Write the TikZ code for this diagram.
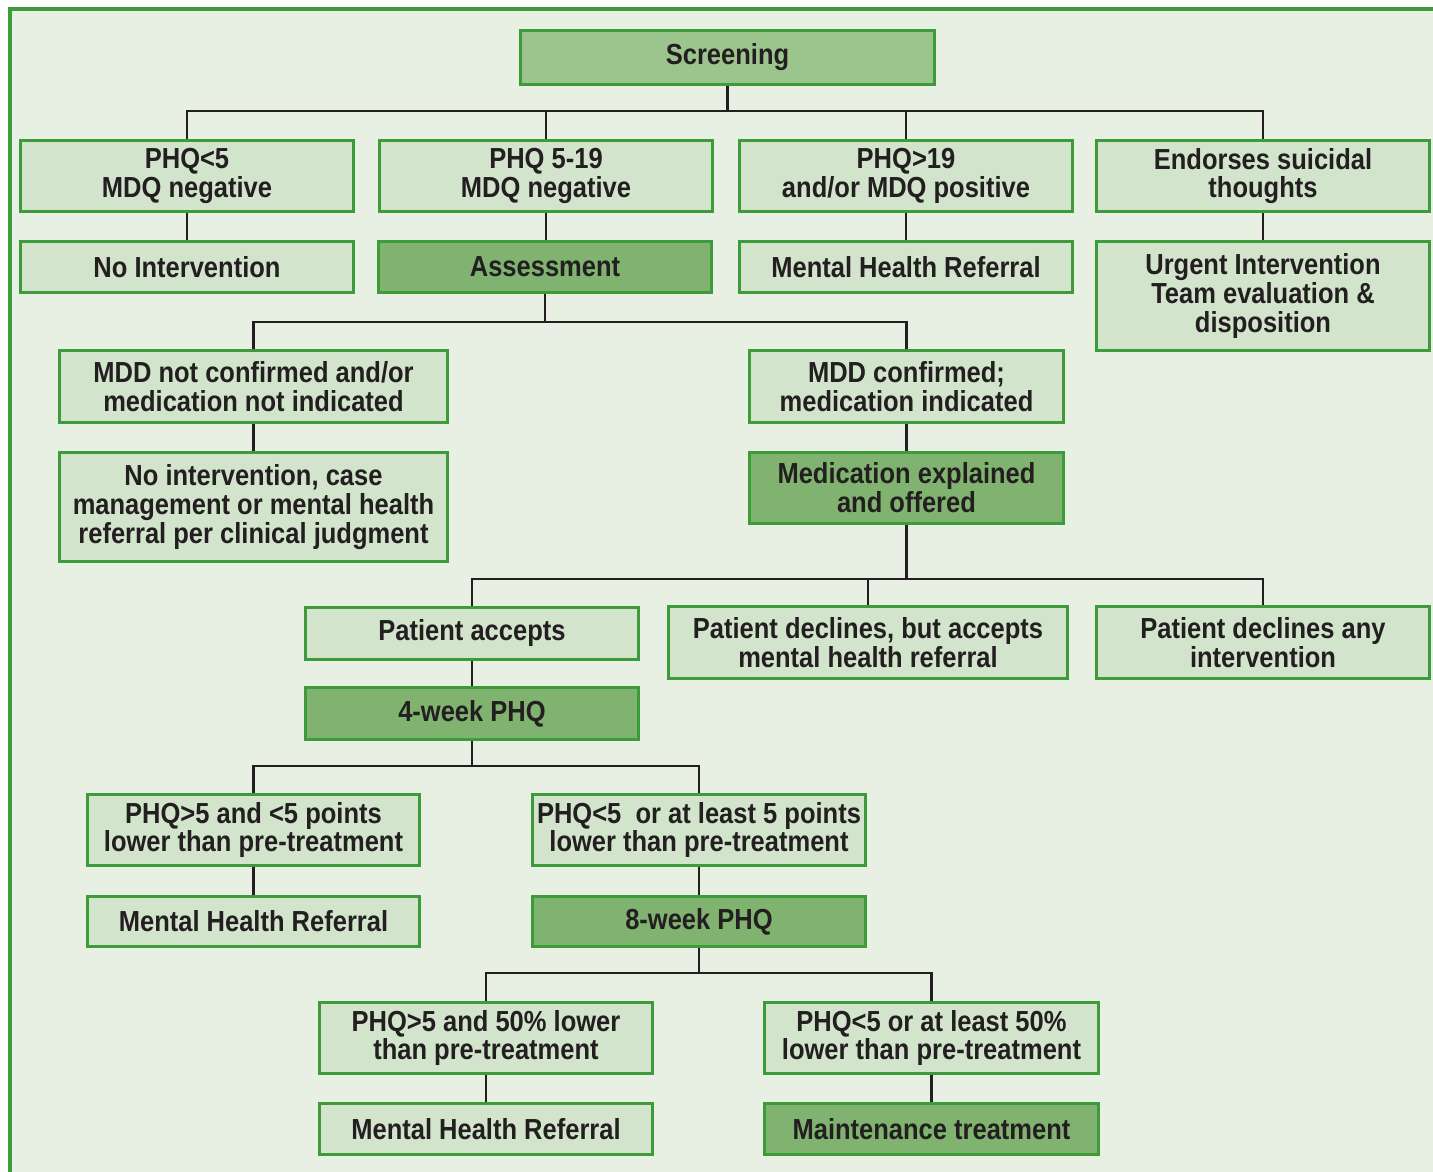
\documentclass[tikz,border=0pt]{standalone}
\usepackage{fontspec}
\setmainfont{Liberation Sans}[FakeStretch=0.88]
\usepackage{tikz}
\definecolor{pagebg}{HTML}{E8F0E3}
\definecolor{frame}{HTML}{3E9B3A}
\definecolor{litegreen}{HTML}{D2E4CC}
\definecolor{midgreen}{HTML}{9CC58D}
\definecolor{darkgreen}{HTML}{80B36F}
\definecolor{ink}{HTML}{231F20}

\begin{document}
\begin{tikzpicture}[x=0.02cm,y=-0.02cm,
        wire/.style={draw=ink,line width=0.05cm},
        basebox/.style={draw=frame,line width=0.065cm,text=ink,align=center,inner sep=0pt,
            font=\fontsize{16.5}{16.4}\selectfont\bfseries},
        litebox/.style={basebox,fill=litegreen},
        midbox/.style={basebox,fill=midgreen},
        darkbox/.style={basebox,fill=darkgreen},
        wh/.style 2 args={minimum width=#1*0.02cm,minimum height=#2*0.02cm}]
                \clip (0,0) rectangle (1433,1172);
                \fill[white] (0,0) rectangle (1433,1172);
                \draw[frame,fill=pagebg,line width=0.065cm] (10,9) rectangle (1480,1220);
                % screening and first split
                \node[midbox,wh={414}{54}] (scr) at (727.5,57.5) {Screening};
                \node[litebox,wh={333}{71}] (r1a) at (187,176) {PHQ<5\\MDQ negative};
                \node[litebox,wh={333}{71}] (r1b) at (546,176) {PHQ 5-19\\MDQ negative};
                \node[litebox,wh={333}{71}] (r1c) at (906,176) {PHQ>19\\and/or MDQ positive};
                \node[litebox,wh={333}{71}] (r1d) at (1263,176) {Endorses suicidal\\thoughts};
                \node[litebox,wh={333}{51}] (r2a) at (187,267) {No Intervention};
                \node[darkbox,wh={333}{51}] (r2b) at (545,267) {Assessment};
                \node[litebox,wh={333}{51}] (r2c) at (906,267) {Mental Health Referral};
                \node[litebox,wh={333}{109}] (r2d) at (1263,296) {Urgent Intervention\\Team evaluation \&\\disposition};
                % assessment
                \node[litebox,wh={388}{72}] (notconf) at (253.5,386.5) {MDD not confirmed and/or\\medication not indicated};
                \node[litebox,wh={388}{109}] (noint) at (253.5,507) {No intervention, case\\management or mental health\\referral per clinical judgment};
                \node[litebox,wh={314}{72}] (conf) at (906.5,386.5) {MDD confirmed;\\medication indicated};
                \node[darkbox,wh={314}{71}] (medexp) at (906.5,488) {Medication explained\\and offered};
                % patient choice
                \node[litebox,wh={333}{52}] (accepts) at (472,633.5) {Patient accepts};
                \node[litebox,wh={399}{72}] (declref) at (868,642.5) {Patient declines, but accepts\\mental health referral};
                \node[litebox,wh={333}{72}] (declany) at (1263,642.5) {Patient declines any\\intervention};
                \node[darkbox,wh={333}{52}] (wk4) at (472,713.5) {4-week PHQ};
                % 4-week result
                \node[litebox,wh={332}{71}] (ptshi) at (253.5,830) {PHQ>5 and <5 points\\lower than pre-treatment};
                \node[litebox,wh={333}{71}] (ptslo) at (699,830) {PHQ<5\ \ or at least 5 points\\lower than pre-treatment};
                \node[litebox,wh={332}{50}] (mhr2) at (253.5,921.5) {Mental Health Referral};
                \node[darkbox,wh={333}{50}] (wk8) at (699,921.5) {8-week PHQ};
                % 8-week result
                \node[litebox,wh={333}{71}] (pcthi) at (486,1038) {PHQ>5 and 50\% lower\\than pre-treatment};
                \node[litebox,wh={334}{71}] (pctlo) at (931.5,1038) {PHQ<5 or at least 50\%\\lower than pre-treatment};
                \node[litebox,wh={333}{51}] (mhr3) at (486,1129) {Mental Health Referral};
                \node[darkbox,wh={334}{51}] (maint) at (931.5,1129) {Maintenance treatment};
                % connectors
                \coordinate (j1) at (scr.south |- 0,111);
                \coordinate (j2) at (r2b.south |- 0,322);
                \coordinate (j3) at (medexp.south |- 0,579);
                \coordinate (j4) at (wk4.south |- 0,766);
                \coordinate (j5) at (wk8.south |- 0,973);
                \draw[wire] (scr) -- (j1);
                \foreach \n in {r1a,r1b,r1c,r1d} \draw[wire] (j1) -| (\n);
                \foreach \a/\b in {r1a/r2a,r1b/r2b,r1c/r2c,r1d/r2d,notconf/noint,conf/medexp,accepts/wk4,ptshi/mhr2,ptslo/wk8,pcthi/mhr3,pctlo/maint}
                    \draw[wire] (\a.south) -- (\a.south |- \b.north);
                \draw[wire] (r2b) -- (j2);
                \foreach \n in {notconf,conf} \draw[wire] (j2) -| (\n);
                \draw[wire] (medexp) -- (j3);
                \foreach \n in {accepts,declref,declany} \draw[wire] (j3) -| (\n);
                \draw[wire] (wk4) -- (j4);
                \foreach \n in {ptshi,ptslo} \draw[wire] (j4) -| (\n);
                \draw[wire] (wk8) -- (j5);
                \foreach \n in {pcthi,pctlo} \draw[wire] (j5) -| (\n);
\end{tikzpicture}
\end{document}
